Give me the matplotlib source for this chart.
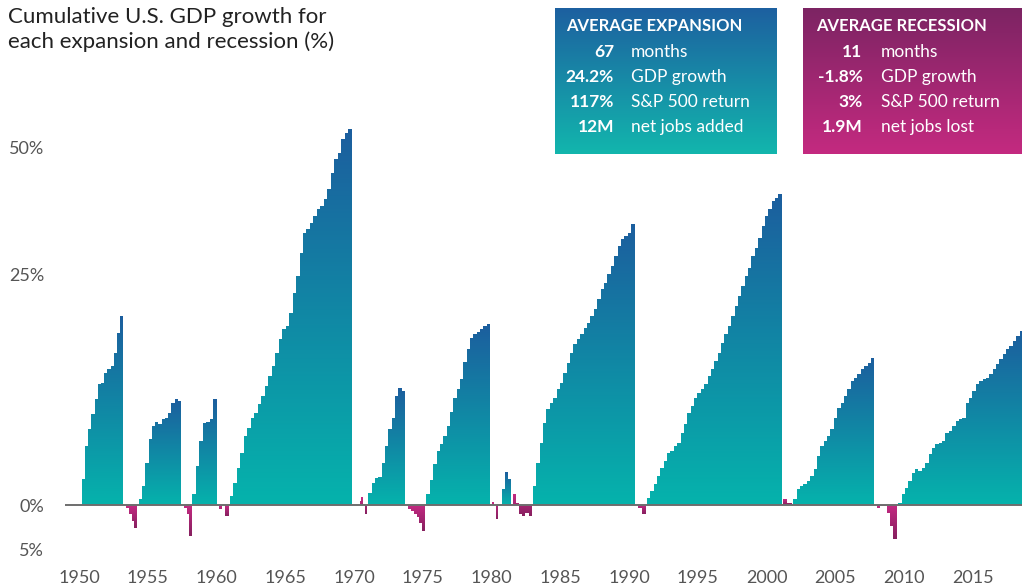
"""Cumulative U.S. GDP growth for each expansion and recession, gradient step areas."""
import numpy as np
import matplotlib

matplotlib.use("Agg")
import matplotlib.pyplot as plt
from matplotlib.patches import Polygon
from matplotlib.colors import LinearSegmentedColormap

# Expansions: (start year, end year) and cumulative growth (%) per step
exp_spans = [
    (1950.20, 1953.22), (1954.36, 1957.42), (1958.24, 1960.01), (1960.98, 1969.83),
    (1971.04, 1973.71), (1975.27, 1979.89), (1980.79, 1981.39), (1983.00, 1990.40),
    (1991.29, 2001.11), (2001.95, 2007.84), (2009.58, 2018.65),
]
exp_1949 = [3.7, 8.3, 10.6, 12.7, 14.8, 16.9, 17.1, 18.5, 19.0, 19.5, 21.3, 24.1, 26.5]
exp_1954 = [0.8, 2.7, 5.9, 9.2, 11.1, 11.6, 11.3, 12.0, 12.2, 12.9, 14.3, 14.8, 14.6]
exp_1958 = [1.5, 5.5, 9.0, 11.5, 11.6, 12.0, 14.8]
exp_1961 = [1.2, 3.1, 5.2, 7.3, 9.6, 10.8, 12.2, 12.9, 14.1, 15.2, 16.6, 18.0,
            19.4, 21.3, 23.2, 24.6, 25.0, 26.9, 29.7, 32.0, 35.3, 38.1, 38.6, 39.5,
            40.4, 41.4, 41.8, 42.8, 44.2, 46.5, 48.4, 49.3, 51.2, 52.1, 52.6]
exp_1970 = [1.7, 3.1, 3.8, 3.9, 5.9, 8.2, 10.6, 12.2, 15.2, 16.4, 15.9]
exp_1975 = [1.5, 3.5, 5.8, 7.5, 8.6, 9.6, 11.0, 13.0, 15.0, 16.2, 17.6, 20.0,
            21.8, 23.4, 23.9, 24.2, 24.6, 25.0, 25.3]
exp_1980 = [2.2, 4.6, 3.6]
exp_1982 = [2.6, 5.9, 8.7, 11.5, 13.4, 14.3, 15.0, 16.2, 17.1, 18.5, 19.9, 21.3,
            22.5, 23.2, 23.9, 24.8, 25.5, 26.4, 27.4, 28.8, 30.2, 31.1, 32.3, 33.5,
            34.8, 36.2, 37.2, 37.7, 38.1, 39.3]
exp_1991 = [1.0, 1.9, 2.9, 4.0, 5.2, 6.1, 7.3, 7.5, 8.2, 8.7, 10.1, 11.3, 12.9,
            13.8, 15.0, 15.7, 16.2, 16.9, 18.0, 19.0, 20.1, 21.3, 22.7, 23.9, 25.0,
            26.4, 27.8, 29.2, 30.6, 32.0, 33.2, 34.8, 36.0, 37.4, 39.1, 40.5, 41.4,
            42.6, 43.0, 43.5]
exp_2001 = [0.8, 2.2, 2.6, 2.9, 3.3, 4.0, 5.0, 6.8, 8.2, 8.9, 9.6, 10.6, 12.2,
            13.6, 14.3, 15.2, 16.2, 17.3, 17.8, 18.3, 19.0, 19.4, 19.9, 20.6]
exp_2009 = [0.3, 1.5, 2.4, 3.3, 4.5, 5.0, 4.7, 5.2, 5.9, 7.1, 8.0, 8.5, 8.7, 8.9,
            10.1, 10.3, 11.0, 11.7, 12.0, 12.2, 14.3, 15.0, 15.9, 16.9, 17.3, 17.6,
            17.8, 18.3, 19.0, 19.7, 20.4, 21.1, 21.8, 22.2, 22.9, 23.6, 24.3]
exp_values = [exp_1949, exp_1954, exp_1958, exp_1961, exp_1970, exp_1975,
              exp_1980, exp_1982, exp_1991, exp_2001, exp_2009]

# Recessions
rec_spans = [
    (1953.40, 1954.24), (1957.66, 1958.19), (1960.15, 1960.90), (1970.40, 1970.95),
    (1973.93, 1975.16), (1980.01, 1980.50), (1981.54, 1982.92), (1990.65, 1991.24),
    (2001.20, 2001.83), (2008.01, 2009.47),
]
rec_values = [
    [-0.4, -1.3, -2.2, -3.2],
    [-0.4, -1.2, -4.4],
    [-0.5, 0.0, -1.5],
    [0.5, 1.1, 0.2, -1.2],
    [-0.5, -0.8, -1.3, -1.7, -2.5, -3.7],
    [0.4, 0.0, -2.0],
    [1.5, 0.3, -1.3, -1.6, -1.1, -1.6],
    [-0.4, -1.3],
    [0.8, 0.3],
    [-0.4, -0.1, -0.2, -1.1, -3.0, -4.8],
]

year_ticks = list(range(1950, 2016, 5))
# label positions follow the source graphic (its labels are not evenly spaced)
pct_ticks = [50, 32.3, 0, -6.2]
pct_labels = ["50%", "25%", "0%", "5%"]

exp_summary = [("67", "months"), ("24.2%", "GDP growth"),
               ("117%", "S&P 500 return"), ("12M", "net jobs added")]
rec_summary = [("11", "months"), ("-1.8%", "GDP growth"),
               ("3%", "S&P 500 return"), ("1.9M", "net jobs lost")]

TEAL = "#05B3AC"
BLUE = "#1C5E9E"
PINK = "#C62A83"
PLUM = "#86205F"
GREY = "#555555"
FONT = ["Lato", "DejaVu Sans"]


def gradient_steps(ax, span, vals, c_low, c_high):
    edges = np.linspace(span[0], span[1], len(vals) + 1)
    xs, ys = [edges[0]], [0.0]
    for i, v in enumerate(vals):
        xs += [edges[i], edges[i + 1]]
        ys += [v, v]
    xs.append(edges[-1])
    ys.append(0.0)
    poly = Polygon(np.column_stack([xs, ys]), closed=True, fc="none", ec="none")
    ax.add_patch(poly)
    lo, hi = min(0, min(vals)), max(0, max(vals))
    cmap = LinearSegmentedColormap.from_list("g", [c_low, c_high])
    grad = np.linspace(0, 1, 256).reshape(-1, 1)
    im = ax.imshow(grad, cmap=cmap, origin="lower", aspect="auto",
                   extent=[edges[0], edges[-1], lo, hi], interpolation="bilinear")
    im.set_clip_path(poly)


def summary_box(fig, rect, top, bottom, header, rows, hx, vx, lx):
    bx = fig.add_axes(rect)
    cmap = LinearSegmentedColormap.from_list("b", [top, bottom])
    bx.imshow(np.linspace(0, 1, 256).reshape(-1, 1), cmap=cmap, aspect="auto",
              extent=[0, 1, 0, 1], origin="upper")
    bx.set_axis_off()
    bx.text(hx, 0.877, header, color="white", fontsize=12, fontweight="bold",
            family=FONT, va="center", ha="left", transform=bx.transAxes)
    for i, (val, lab) in enumerate(rows):
        y = 0.699 - i * 0.171
        bx.text(vx, y, val, color="white", fontsize=12.5, fontweight="bold",
                family=FONT, va="center", ha="right", transform=bx.transAxes)
        bx.text(lx, y, lab, color="white", fontsize=12.5, family=FONT,
                va="center", ha="left", transform=bx.transAxes)


def main():
    fig = plt.figure(figsize=(10.24, 5.86), dpi=100)
    ax = fig.add_axes([65 / 1024, 1 - 560 / 586, 957 / 1024, 460 / 586])

    for span, vals in zip(exp_spans, exp_values):
        gradient_steps(ax, span, vals, TEAL, BLUE)
    for span, vals in zip(rec_spans, rec_values):
        gradient_steps(ax, span, vals, PLUM, PINK)

    ax.axhline(0, color="#6e6e6e", lw=1.4, zorder=5)

    ax.set_xlim(1948.98, 2018.58)
    ax.set_ylim(-7.7, 56.7)
    for s in ax.spines.values():
        s.set_visible(False)

    ax.set_xticks(year_ticks)
    ax.set_xticklabels([str(y) for y in year_ticks], family=FONT, fontsize=13)
    ax.set_yticks(pct_ticks)
    ax.set_yticklabels(pct_labels, family=FONT, fontsize=13)
    ax.tick_params(axis="x", length=0, pad=7.5, colors=GREY)
    ax.tick_params(axis="y", length=0, pad=15, colors=GREY)

    fig.text(0.008, 1 - 7 / 586,
             "Cumulative U.S. GDP growth for\neach expansion and recession (%)",
             fontsize=16, color="#222222", family=FONT,
             va="top", ha="left", linespacing=1.25)

    summary_box(fig, [555 / 1024, 1 - 154 / 586, 222 / 1024, 146 / 586],
                "#1D60A0", "#12B6AD", "AVERAGE EXPANSION", exp_summary,
                hx=0.05, vx=0.266, lx=0.342)
    summary_box(fig, [803 / 1024, 1 - 154 / 586, 219 / 1024, 146 / 586],
                "#7C2463", "#C42A80", "AVERAGE RECESSION", rec_summary,
                hx=0.059, vx=0.272, lx=0.356)

    fig.savefig("out.png", dpi=100)


if __name__ == "__main__":
    main()
